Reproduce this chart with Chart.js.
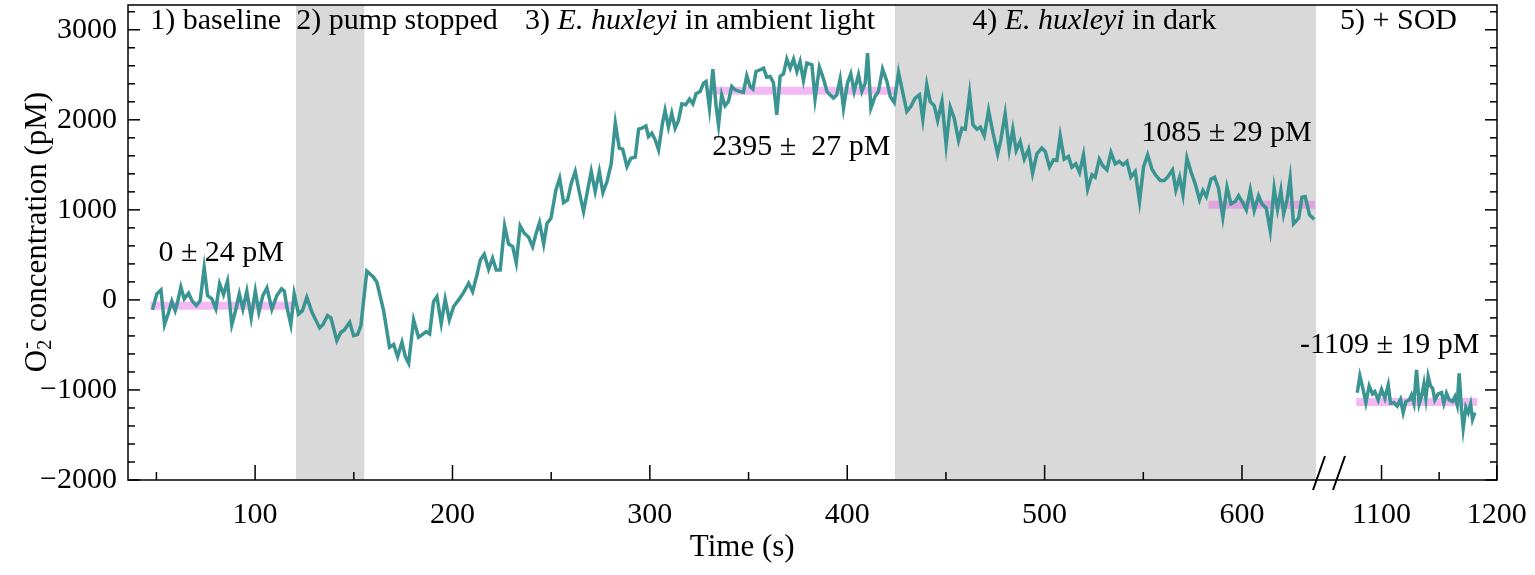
<!DOCTYPE html>
<html>
<head>
<meta charset="utf-8">
<script src="https://cdn.jsdelivr.net/npm/chart.js@4.4.0/dist/chart.umd.min.js"></script>
<style>
body{margin:0;background:#fff}
</style>
</head>
<body>
<canvas id="grafica" width="1535" height="575"></canvas>
<script>
// tramo 1: tiempo (s), O2- (pM)
const serie1 = [
[48.0,-111],[50.2,67],[52.3,111],[54.1,-274],[56.2,-137],[57.8,-15],[59.5,-119],[60.7,-26],[62.4,141],[64.1,11],
[66.3,74],[68.0,-7],[70.2,-63],[72.2,-7],[74.2,356],[75.9,48],[78.1,11],[80.1,-100],[82.0,178],[84.0,59],
[86.0,207],[88.2,-274],[89.9,-137],[92.0,67],[93.8,-100],[95.8,96],[98.0,-200],[100.1,96],[101.9,-137],[103.9,48],
[106.0,133],[108.5,-104],[111.0,48],[113.4,122],[114.8,96],[116.1,-81],[118.1,-274],[119.8,67],[122.0,-156],[124.0,-119],
[126.2,30],[128.8,-137],[132.7,-311],[134.4,-274],[136.7,-174],[138.4,-200],[141.4,-452],[143.5,-359],[145.2,-333],[147.9,-248],
[149.9,-396],[151.9,-385],[153.6,-285],[156.6,319],[160.0,252],[161.7,196],[165.1,-119],[168.1,-526],[170.2,-496],[172.2,-630],
[174.4,-470],[176.1,-630],[177.8,-704],[180.3,-222],[182.8,-415],[184.5,-389],[186.7,-352],[188.4,-378],[190.4,-19],[192.1,37],
[194.3,-260],[196.3,7],[198.4,-222],[200.6,-74],[203.1,0],[205.6,81],[208.2,185],[210.2,92],[212.4,277],[214.1,444],
[216.1,507],[218.3,340],[220.3,463],[222.2,333],[224.2,333],[226.4,822],[228.4,622],[230.5,592],[232.3,414],[234.3,822],
[236.4,740],[238.6,696],[240.6,592],[242.4,740],[244.1,859],[246.2,622],[247.9,852],[249.9,907],[252.4,1222],[254.3,1352],
[256.3,1081],[258.3,1111],[260.2,1296],[262.2,1426],[264.2,1204],[266.4,981],[268.5,1222],[270.3,1426],[272.3,1204],[274.4,1426],
[276.2,1192],[278.3,1315],[280.4,1511],[282.5,1963],[284.5,1685],[286.2,1674],[288.4,1481],[290.4,1574],[292.6,1585],[294.3,1896],
[296.0,1907],[298.0,1933],[299.3,1815],[301.0,1852],[302.7,1778],[304.4,1667],[306.4,1963],[307.7,2104],[309.4,1919],[311.1,2074],
[312.8,1907],[314.5,1993],[316.2,2178],[318.2,2167],[320.1,2230],[321.8,2178],[323.4,2289],[325.5,2315],[327.2,2407],[328.5,2426],
[330.2,2130],[331.9,2563],[333.6,2141],[334.8,1944],[336.4,2278],[338.1,2156],[339.8,2204],[341.5,2370],[343.2,2333],[345.4,2315],
[347.4,2304],[349.1,2489],[350.8,2370],[352.2,2341],[353.8,2537],[355.9,2556],[357.6,2574],[359.2,2474],[360.9,2481],[362.6,2415],
[364.3,2056],[366.0,2481],[367.7,2511],[369.4,2674],[371.1,2574],[372.8,2674],[374.5,2537],[376.1,2648],[377.8,2437],[379.5,2630],
[382.1,2611],[383.7,2230],[385.9,2585],[388.0,2452],[389.7,2315],[391.3,2278],[393.0,2241],[394.7,2278],[396.4,2452],[398.1,2130],
[400.1,2407],[401.8,2511],[403.5,2315],[405.7,2500],[407.4,2315],[409.1,2407],[410.3,2741],[412.0,2130],[414.1,2259],[415.8,2315],
[417.9,2563],[420.1,2426],[421.8,2259],[423.8,2193],[426.0,2526],[428.2,2296],[430.2,2093],[432.2,2148],[434.4,2241],[436.6,2278],
[438.3,2007],[440.3,2389],[442.0,2204],[444.1,2156],[445.8,1993],[448.0,2204],[450.1,1722],[452.2,2141],[454.2,2019],[456.4,1770],
[458.1,1907],[459.8,1896],[462.0,2289],[463.7,1945],[465.7,1896],[467.4,1919],[469.4,1822],[471.6,2104],[473.8,1859],[476.2,1622],
[477.8,1778],[480.0,2067],[482.1,1667],[483.9,1896],[485.6,1659],[487.6,1759],[489.7,1563],[491.9,1674],[493.9,1407],[496.1,1622],
[498.6,1685],[500.3,1648],[502.5,1474],[504.5,1556],[506.2,1548],[507.9,1822],[509.9,1563],[512.1,1593],[513.8,1474],[515.8,1511],
[517.7,1415],[519.7,1611],[521.8,1230],[524.0,1389],[525.6,1363],[527.7,1563],[529.5,1489],[531.6,1444],[533.6,1637],[535.8,1511],
[537.8,1537],[539.7,1500],[541.7,1537],[543.7,1363],[545.9,1426],[548.1,1093],[550.1,1474],[552.2,1611],[554.4,1452],[556.5,1378],
[558.6,1326],[560.6,1326],[562.3,1363],[564.8,1444],[566.5,1222],[568.4,1363],[570.1,1167],[572.1,1574],[574.1,1426],[576.3,1289],
[578.5,1111],[580.2,1215],[581.9,1148],[584.3,1341],[586.1,1363],[588.1,1241],[590.3,919],[592.4,1252],[594.4,1067],[596.6,1093],
[598.3,1156],[600.5,1074],[602.2,1000],[604.2,1222],[606.2,993],[608.4,1156],[610.1,1067],[612.3,1019],[614.3,770],[616.3,1241],
[618.0,1007],[619.7,1215],[621.1,956],[622.8,1111],[624.4,1352],[626.1,844],[628.7,907],[630.4,1141],[632.0,1148],[634.2,944],
[636.6,896]
];
// tramo 2 (+ SOD)
const serie2 = [
[1078.9,-1030],[1081.2,-845],[1084.1,-1000],[1086.4,-1141],[1089.3,-956],[1092.2,-1044],[1094.2,-1019],[1097.1,-1111],
[1100.0,-993],[1102.9,-1093],[1105.8,-944],[1107.8,-1148],[1110.7,-1141],[1113.6,-1178],[1116.5,-1104],[1118.8,-1252],
[1121.1,-1130],[1124.0,-1111],[1126.0,-1056],[1128.1,-1148],[1130.4,-778],[1132.7,-1156],[1134.7,-1074],[1136.8,-933],
[1138.5,-1093],[1140.5,-852],[1142.5,-956],[1144.3,-981],[1146.3,-1111],[1149.2,-1044],[1152.1,-1030],[1154.1,-1148],
[1156.4,-1037],[1158.8,-1111],[1161.6,-1130],[1163.7,-1074],[1165.7,-1167],[1167.4,-815],[1169.5,-1230],[1170.9,-1426],
[1173.2,-1193],[1175.2,-1252],[1177.3,-1156],[1179.0,-1326],[1181.0,-1252]
];
const mediaInicio = [47, 331, 583, 1078];
const mediaFin = [120, 425, 637, 1183];
const mediaValor = [-65, 2322, 1056, -1133];
const bandaInicio = [120.7, 424.2];
const bandaFin = [155.3, 637.5];
const ticksX = [100, 200, 300, 400, 500, 600, 1100, 1200];
const ticksXmenor = [50, 150, 250, 350, 450, 550, 1150];
const ticksY = [-2000, -1000, 0, 1000, 2000, 3000];

const CORTE = 637.5;
// eje partido: despues del corte la escala se comprime
function aEje(t) { return t < 1000 ? t : 670.7 + (t - 1100) * 0.5836; }

const fuente = '"Liberation Serif", "Times New Roman", serif';
const textos = [
  {x: 46.9, y: 3100, partes: [['1) baseline', false]]},
  {x: 120.8, y: 3100, partes: [['2) pump stopped', false]]},
  {x: 236.8, y: 3100, partes: [['3) ', false], ['E. huxleyi', true], [' in ambient light', false]]},
  {x: 463.3, y: 3100, partes: [['4) ', false], ['E. huxleyi', true], [' in dark', false]]},
  {x: 649.7, y: 3100, partes: [['5) + SOD', false]]},
  {x: 51.0, y: 522, partes: [['0 \u00b1 24 pM', false]]},
  {x: 331.6, y: 1700, partes: [['2395 \u00b1  27 pM', false]]},
  {x: 548.9, y: 1856, partes: [['1085 \u00b1 29 pM', false]]},
  {x: 629.4, y: -500, partes: [['-1109 \u00b1 19 pM', false]]}
];

function escribir(ctx, x, y, partes, tam) {
  let cx = x;
  for (const [txt, ital] of partes) {
    ctx.font = (ital ? 'italic ' : '') + tam + 'px ' + fuente;
    ctx.fillText(txt, cx, y);
    cx += ctx.measureText(txt).width;
  }
}

const decorado = {
  id: 'decorado',
  beforeDatasetsDraw(chart) {
    const {ctx, chartArea: a, scales: {x}} = chart;
    ctx.save();
    ctx.fillStyle = '#d9d9d9';
    bandaInicio.forEach((b, i) => {
      const x0 = x.getPixelForValue(b), x1 = x.getPixelForValue(bandaFin[i]);
      ctx.fillRect(x0, a.top, x1 - x0, a.bottom - a.top);
    });
    ctx.restore();
  },
  afterDraw(chart) {
    const {ctx, chartArea: a, scales: {x, y}} = chart;
    ctx.save();
    ctx.strokeStyle = '#000';
    ctx.lineWidth = 1.5;
    ctx.strokeRect(a.left, a.top, a.right - a.left, a.bottom - a.top);
    const linea = (x0, y0, x1, y1) => { ctx.beginPath(); ctx.moveTo(x0, y0); ctx.lineTo(x1, y1); ctx.stroke(); };
    ticksX.forEach(t => { const p = x.getPixelForValue(aEje(t)); linea(p, a.bottom, p, a.bottom - 15); });
    ticksXmenor.forEach(t => { const p = x.getPixelForValue(aEje(t)); linea(p, a.bottom, p, a.bottom - 8); });
    for (let v = -2000; v <= 3200; v += 200) {
      const p = y.getPixelForValue(v);
      const largo = v % 1000 === 0 ? 12 : 7;
      linea(a.left, p, a.left + largo, p);
      linea(a.right, p, a.right - largo, p);
    }
    // marcas del corte
    const pc = x.getPixelForValue(CORTE);
    ctx.lineWidth = 2;
    linea(pc - 3, a.bottom + 10, pc + 9, a.bottom - 24);
    linea(pc + 17, a.bottom + 10, pc + 29, a.bottom - 24);
    // textos
    ctx.fillStyle = '#000';
    ctx.textBaseline = 'middle';
    ctx.textAlign = 'left';
    textos.forEach(t => escribir(ctx, x.getPixelForValue(t.x), y.getPixelForValue(t.y), t.partes, 30));
    // titulo eje x
    ctx.textAlign = 'center';
    ctx.font = '31px ' + fuente;
    ctx.fillText('Time (s)', x.getPixelForValue(346.8), 548);
    // titulo eje y: O2- con sub y superindice
    ctx.translate(38, 232);
    ctx.rotate(-Math.PI / 2);
    ctx.textAlign = 'left';
    const grande = '31px ' + fuente, chica = '20px ' + fuente;
    ctx.font = grande;
    const wO = ctx.measureText('O').width, resto = ' concentration (pM)', wR = ctx.measureText(resto).width;
    ctx.font = chica;
    const w2 = ctx.measureText('2').width;
    let cx = -(wO + w2 + wR) / 2;
    ctx.font = grande; ctx.fillText('O', cx, 0); cx += wO;
    ctx.font = chica; ctx.fillText('2', cx, 8); ctx.fillText('-', cx + 1, -11); cx += w2;
    ctx.font = grande; ctx.fillText(resto, cx, 0);
    ctx.restore();
  }
};

const linea1 = serie1.map(p => ({x: aEje(p[0]), y: p[1]}));
const linea2 = serie2.map(p => ({x: aEje(p[0]), y: p[1]}));
const medias = mediaValor.map((m, i) => ({
  data: [{x: aEje(mediaInicio[i]), y: m}, {x: aEje(mediaFin[i]), y: m}],
  borderColor: 'rgba(230,100,230,0.45)',
  borderWidth: 8,
  pointRadius: 0,
  order: 2
}));

Chart.defaults.font.family = fuente;
Chart.defaults.color = '#000';

new Chart('grafica', {
  type: 'line',
  data: {
    datasets: [
      {data: linea1, borderColor: '#3a9592', borderWidth: 3.5, pointRadius: 0, tension: 0, order: 1},
      {data: linea2, borderColor: '#3a9592', borderWidth: 3.5, pointRadius: 0, tension: 0, order: 1},
      ...medias
    ]
  },
  options: {
    responsive: false,
    animation: false,
    layout: {padding: {left: 0, right: 38, top: 5, bottom: 0}},
    plugins: {legend: {display: false}, tooltip: {enabled: false}},
    scales: {
      x: {
        type: 'linear',
        min: 35.6,
        max: 729.2,
        grid: {display: false, drawTicks: false},
        border: {display: false},
        afterBuildTicks: s => { s.ticks = ticksX.map(t => ({value: aEje(t)})); },
        afterFit: s => { s.height = 95; s.paddingLeft = 0; s.paddingRight = 0; },
        ticks: {
          padding: 17,
          font: {size: 30},
          maxRotation: 0,
          autoSkip: false,
          callback: (v, i) => String(ticksX[i])
        }
      },
      y: {
        min: -2000,
        max: 3275,
        grid: {display: false, drawTicks: false},
        border: {display: false},
        afterBuildTicks: s => { s.ticks = ticksY.map(v => ({value: v})); },
        afterFit: s => { s.width = 128; s.paddingTop = 0; s.paddingBottom = 0; },
        ticks: {
          padding: 11,
          font: {size: 30},
          callback: v => v < 0 ? '\u2212' + Math.abs(v) : String(v)
        }
      }
    }
  },
  plugins: [decorado]
});
</script>
</body>
</html>
